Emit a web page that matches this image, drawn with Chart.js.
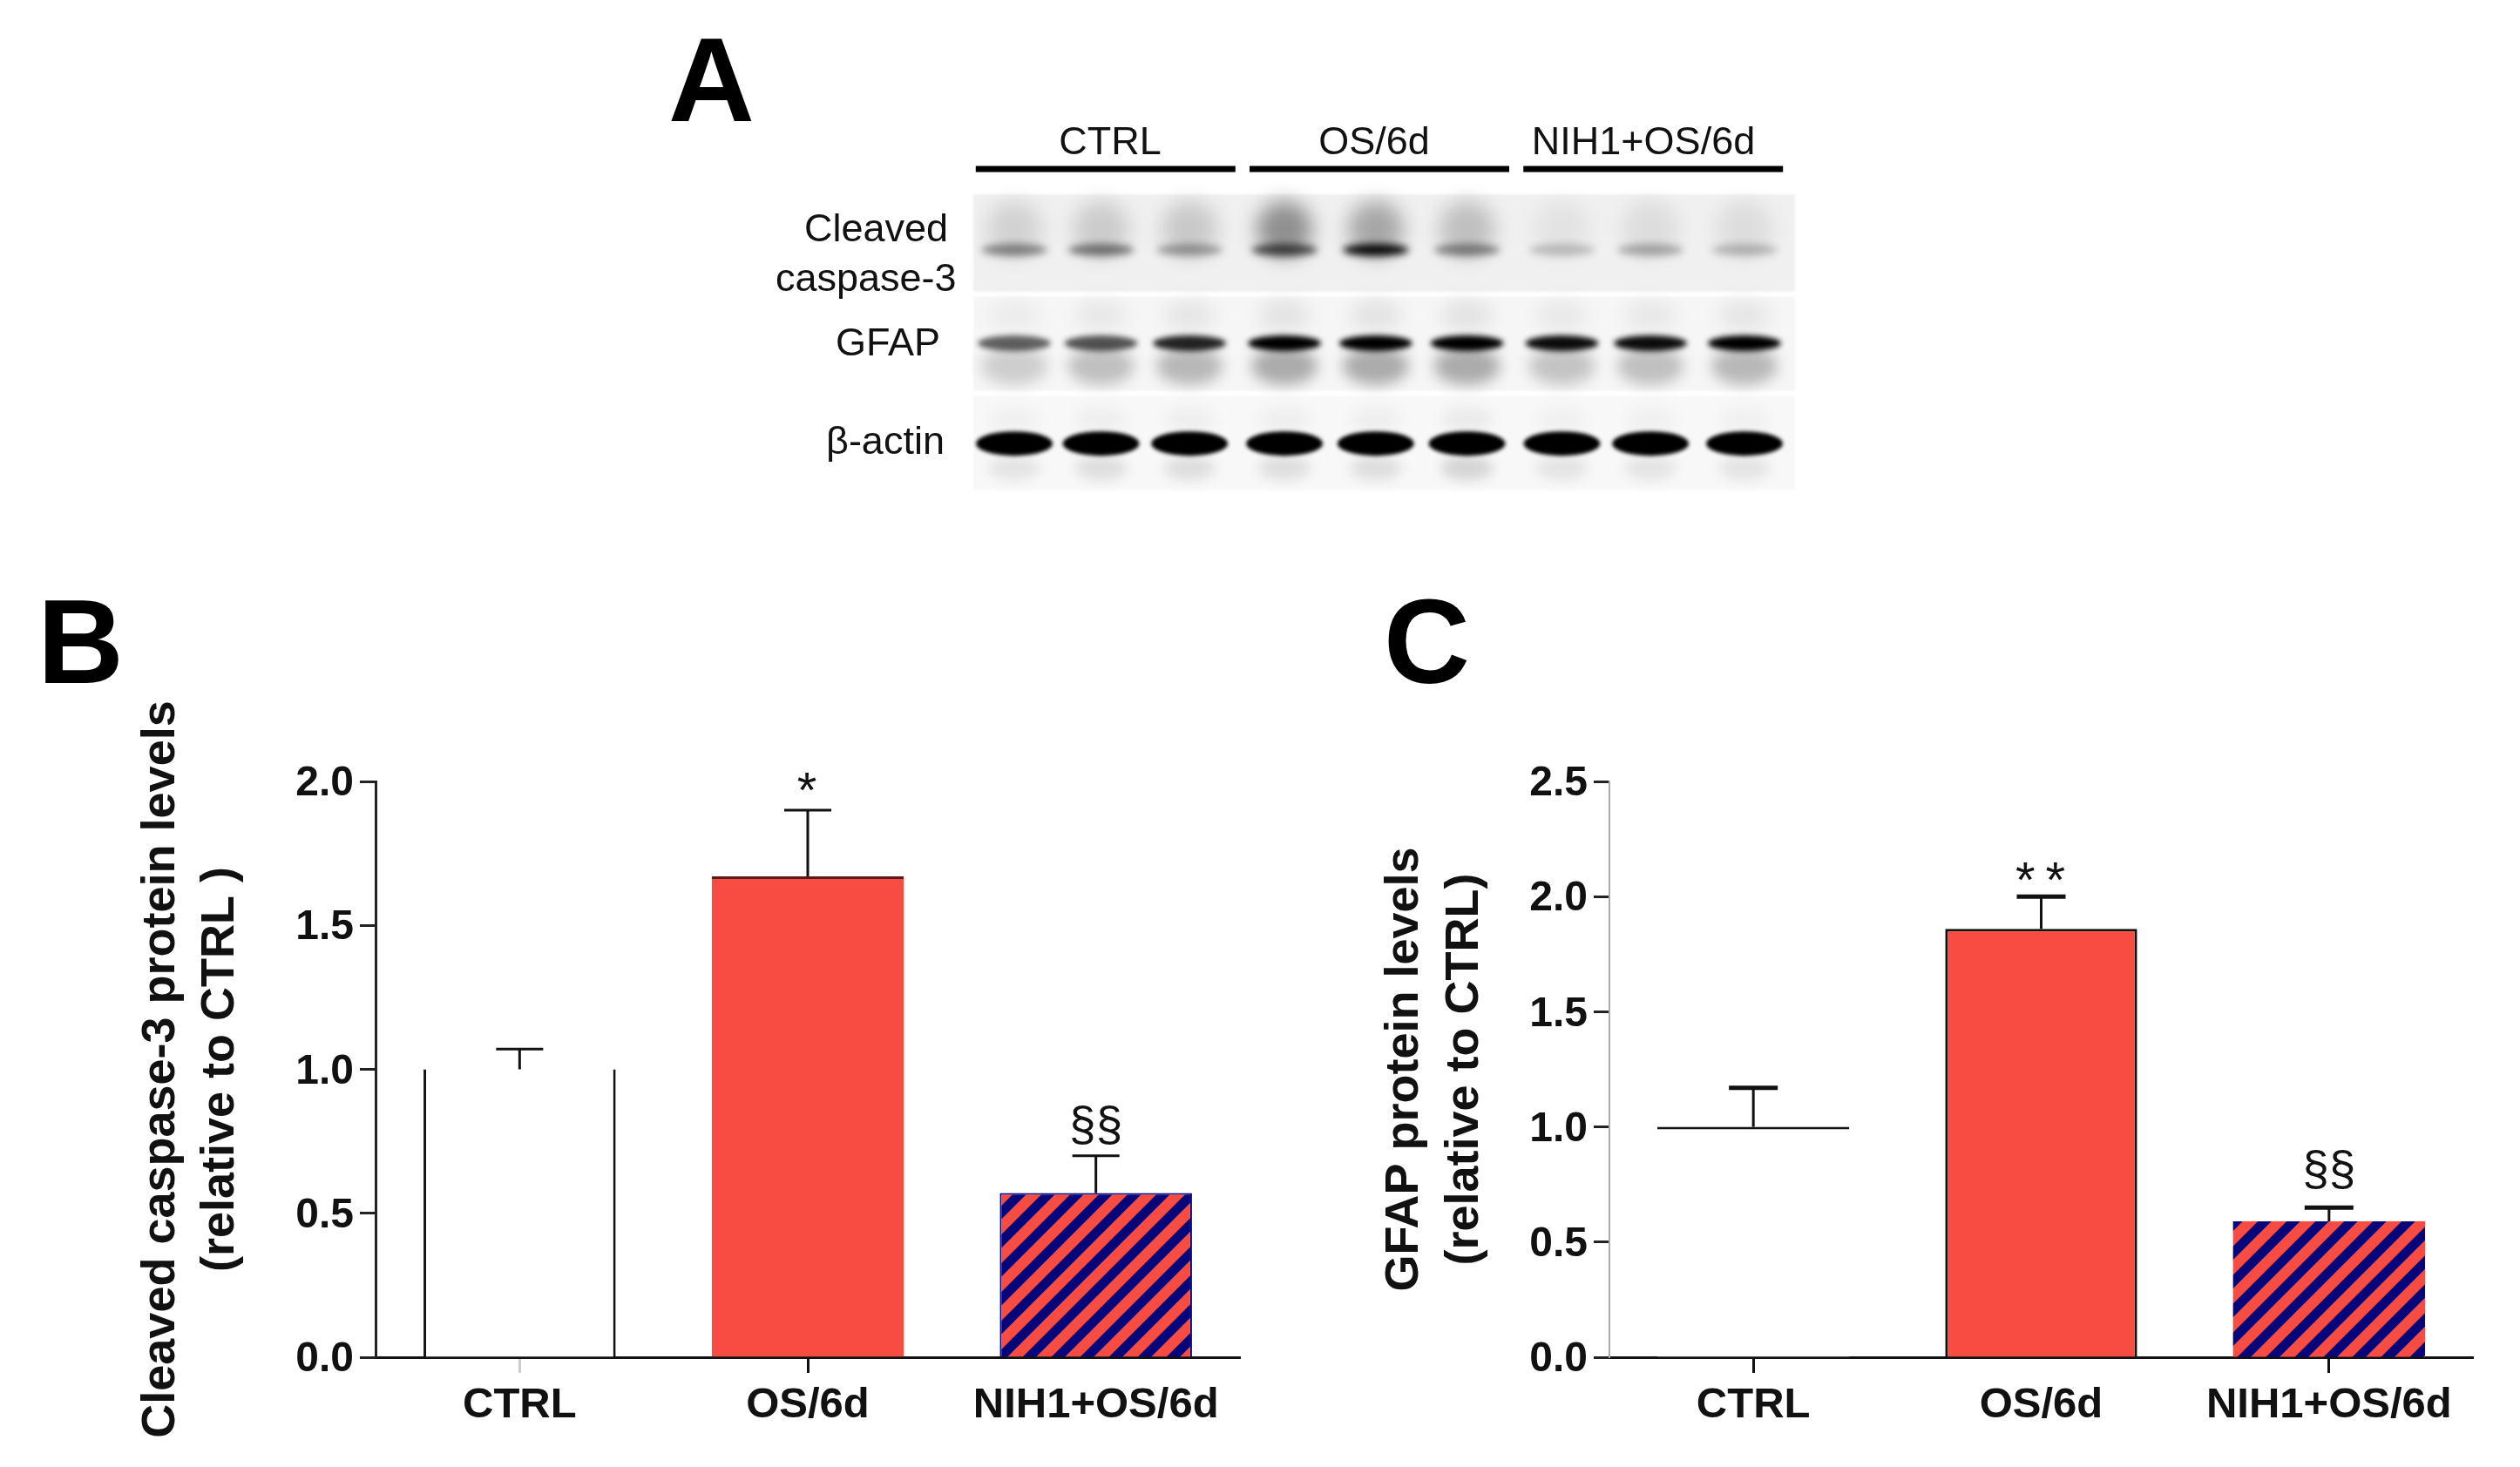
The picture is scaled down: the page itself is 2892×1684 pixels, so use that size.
<!DOCTYPE html>
<html>
<head>
<meta charset="utf-8">
<title>Cleaved caspase-3 and GFAP protein levels</title>
<script src="https://cdn.jsdelivr.net/npm/chart.js@4/dist/chart.umd.min.js"></script>
<style>
  html, body { margin: 0; background: #fff; }
  body { position: relative; width: 2892px; height: 1684px; overflow: hidden; font-family: "Liberation Sans", Arial, sans-serif; color: #111; }
  canvas { position: absolute; }
  .txt { position: absolute; line-height: 1; white-space: nowrap; font-size: 45px; }
  .mid { transform: translateX(-50%); }
  .letter { position: absolute; line-height: 1; font-size: 137px; font-weight: bold; color: #000; }
</style>
</head>
<body>
<canvas id="blot" width="2892" height="660" style="left:0;top:0"></canvas>
<canvas id="panel-b" width="1460" height="1024" style="left:0;top:660px"></canvas>
<canvas id="panel-c" width="1432" height="1024" style="left:1460px;top:660px"></canvas>

<div class="letter" style="left:43px;top:668px">B</div>
<div class="letter" style="left:767px;top:23px">A</div>
<div class="letter" style="left:1588px;top:668px">C</div>

<div class="txt mid" style="left:1274px;top:139px">CTRL</div>
<div class="txt mid" style="left:1577px;top:139px">OS/6d</div>
<div class="txt mid" style="left:1886px;top:139px">NIH1+OS/6d</div>
<div class="txt" style="left:923px;top:239px">Cleaved</div>
<div class="txt" style="left:890px;top:296px">caspase-3</div>
<div class="txt" style="left:959px;top:370px">GFAP</div>
<div class="txt" style="left:948px;top:483px">β-actin</div>

<script>
  var categories = ['CTRL', 'OS/6d', 'NIH1+OS/6d'];

  var caspaseValues = [1.0, 1.67, 0.57];
  var caspaseErrTops = [1.07, 1.90, 0.70];
  var caspaseMarks = ['', '*', '§§'];
  var caspaseTicks = [0, 0.5, 1.0, 1.5, 2.0];

  var gfapValues = [1.0, 1.86, 0.59];
  var gfapErrTops = [1.17, 2.00, 0.65];
  var gfapMarks = ['', '**', '§§'];
  var gfapTicks = [0, 0.5, 1.0, 1.5, 2.0, 2.5];

  /* blot: lane centres, band rows, and how dark each band and its smear look */
  var lanePositions = [1, 1.95, 2.92, 3.96, 4.96, 5.96, 7, 7.97, 9];
  var bandRows = [0.56, 1.5, 2.51];
  var caspaseBand = [0.42, 0.48, 0.32, 0.65, 0.95, 0.42, 0.2, 0.28, 0.22];
  var caspaseSmear = [0.12, 0.15, 0.16, 0.4, 0.3, 0.2, 0.05, 0.08, 0.08];
  var gfapBand = [0.6, 0.65, 0.85, 1, 1, 1, 0.95, 0.95, 1];
  var gfapSmear = [0.16, 0.22, 0.25, 0.3, 0.3, 0.3, 0.2, 0.22, 0.25];
  var actinBand = [1, 1, 1, 1, 1, 1, 1, 1, 1];
  var actinSmear = [0.08, 0.1, 0.1, 0.1, 0.1, 0.14, 0.08, 0.08, 0.08];

  var RED = '#f84c43';
  var NAVY = '#06057a';
  var FONT = '"Liberation Sans", Arial, sans-serif';

  function hatchPattern() {
    var tile = document.createElement('canvas');
    tile.width = 33;
    tile.height = 33;
    var c = tile.getContext('2d');
    c.fillStyle = RED;
    c.fillRect(0, 0, 33, 33);
    c.strokeStyle = NAVY;
    c.lineWidth = 11;
    c.beginPath();
    c.moveTo(-10, 43); c.lineTo(43, -10);
    c.moveTo(-10, 10); c.lineTo(10, -10);
    c.moveTo(23, 43); c.lineTo(43, 23);
    c.stroke();
    return c.createPattern(tile, 'repeat');
  }

  /* error bars and significance marks, placed through the chart's scales */
  function errorBarPlugin(errTops, marks, style) {
    return {
      id: 'errorBars',
      afterDatasetsDraw: function (chart) {
        var ctx = chart.ctx;
        var y = chart.scales.y;
        var meta = chart.getDatasetMeta(0);
        ctx.save();
        ctx.strokeStyle = '#111';
        ctx.fillStyle = '#111';
        ctx.textAlign = 'center';
        ctx.textBaseline = 'middle';
        meta.data.forEach(function (bar, i) {
          var top = y.getPixelForValue(errTops[i]);
          ctx.lineWidth = 3;
          ctx.beginPath();
          ctx.moveTo(bar.x, bar.y);
          ctx.lineTo(bar.x, top);
          ctx.stroke();
          ctx.lineWidth = style.capWidth;
          ctx.beginPath();
          ctx.moveTo(bar.x - style.capHalf, top);
          ctx.lineTo(bar.x + style.capHalf, top);
          ctx.stroke();
          if (marks[i] === '§§') {
            ctx.font = '55px ' + FONT;
            ctx.letterSpacing = '0px';
            ctx.fillText(marks[i], bar.x, top - style.sectionGap);
          } else if (marks[i]) {
            ctx.font = '58px ' + FONT;
            ctx.letterSpacing = '12px';
            ctx.fillText(marks[i], bar.x + 5, top - style.starGap);
          }
        });
        ctx.restore();
      }
    };
  }

  function makeBarPanel(id, values, errTops, marks, ticks, yMax, cfg) {
    return new Chart(document.getElementById(id), {
      type: 'bar',
      data: {
        labels: categories,
        datasets: [{
          data: values,
          backgroundColor: ['#ffffff', RED, hatchPattern()],
          borderColor: cfg.barBorders,
          borderWidth: function (c) { return cfg.barWidths[c.dataIndex]; },
          borderSkipped: false,
          barPercentage: 0.667,
          categoryPercentage: 1
        }]
      },
      options: {
        responsive: false,
        animation: false,
        devicePixelRatio: 1,
        layout: { padding: cfg.padding },
        plugins: { legend: { display: false }, tooltip: { enabled: false } },
        scales: {
          x: {
            border: { color: '#111', width: 3 },
            grid: {
              offset: false,
              drawOnChartArea: false,
              tickLength: 18,
              tickWidth: 3,
              tickColor: function (c) { return cfg.xTickColors[c.index]; }
            },
            ticks: {
              color: '#111',
              padding: 8,
              maxRotation: 0,
              autoSkip: false,
              font: { family: FONT, size: 49, weight: 'bold' }
            },
            afterFit: function (s) {
              s.height = 126;
              s.paddingLeft = 0;
              s.paddingRight = 0;
            }
          },
          y: {
            min: 0,
            max: yMax,
            border: { color: cfg.yAxisColor, width: cfg.yAxisWidth },
            grid: { drawOnChartArea: false, tickLength: 18, tickWidth: 3, tickColor: '#222' },
            afterBuildTicks: function (s) {
              s.ticks = ticks.map(function (v) { return { value: v }; });
            },
            ticks: {
              color: '#111',
              padding: 7,
              labelOffset: 3,
              font: { family: FONT, size: 48, weight: 'bold' },
              callback: function (v) { return Number(v).toFixed(1); }
            },
            title: {
              display: true,
              text: cfg.title,
              color: '#111',
              padding: 0,
              font: { family: FONT, size: 54, weight: 'bold', lineHeight: cfg.titleLine }
            },
            afterFit: function (s) {
              s.width = cfg.yWidth;
              s.paddingTop = 0;
              s.paddingBottom = 0;
            }
          }
        }
      },
      plugins: [errorBarPlugin(errTops, marks, cfg)]
    });
  }

  function ellipse(ctx, x, y, rx, ry, alpha, blur) {
    ctx.filter = 'blur(' + blur + 'px)';
    ctx.fillStyle = 'rgba(0,0,0,' + alpha + ')';
    ctx.beginPath();
    ctx.ellipse(x, y, rx, ry, 0, 0, Math.PI * 2);
    ctx.fill();
  }

  var blotPlugin = {
    id: 'blot',
    beforeDatasetsDraw: function (chart) {
      var ctx = chart.ctx;
      var x = chart.scales.x;
      var y = chart.scales.y;
      var area = chart.chartArea;
      var rowShades = ['#f0f0f0', '#f6f6f6', '#f8f8f8'];
      ctx.save();

      rowShades.forEach(function (shade, r) {
        ctx.filter = 'blur(1px)';
        ctx.fillStyle = shade;
        var top = y.getPixelForValue(r + (r ? 0.03 : 0));
        ctx.fillRect(area.left, top, area.right - area.left, y.getPixelForValue(r + 0.98) - top);
      });

      lanePositions.forEach(function (lane, i) {
        var px = x.getPixelForValue(lane);
        var py = y.getPixelForValue(bandRows[0]);
        ellipse(ctx, px, py - 24, 32, 32, caspaseSmear[i], 11);
        ellipse(ctx, px, py, 38, 7, caspaseBand[i], 4);
        py = y.getPixelForValue(bandRows[1]);
        ellipse(ctx, px, py + 26, 38, 22, gfapSmear[i], 8);
        ellipse(ctx, px, py - 32, 30, 18, gfapSmear[i] * 0.25, 10);
        ellipse(ctx, px, py, 42, 9, gfapBand[i], 3);
        py = y.getPixelForValue(bandRows[2]);
        ellipse(ctx, px, py + 28, 30, 14, actinSmear[i], 7);
        ellipse(ctx, px, py - 28, 30, 14, actinSmear[i] * 0.4, 8);
        ellipse(ctx, px, py, 44, 14, actinBand[i], 2);
      });

      /* group rules over the three lanes of each group */
      ctx.filter = 'none';
      ctx.strokeStyle = '#000';
      ctx.lineWidth = 7;
      [2, 5, 8].forEach(function (lane) {
        var mid = x.getPixelForValue(lane);
        ctx.beginPath();
        ctx.moveTo(mid - 149, 194);
        ctx.lineTo(mid + 149, 194);
        ctx.stroke();
      });
      ctx.restore();
    }
  };

  new Chart(document.getElementById('blot'), {
    type: 'scatter',
    data: {
      datasets: [caspaseBand, gfapBand, actinBand].map(function (band, r) {
        return {
          pointRadius: 0,
          data: lanePositions.map(function (lane) { return { x: lane, y: bandRows[r] }; })
        };
      })
    },
    options: {
      responsive: false,
      animation: false,
      devicePixelRatio: 1,
      layout: { padding: { left: 1117, right: 832, top: 223, bottom: 95 } },
      plugins: { legend: { display: false }, tooltip: { enabled: false } },
      scales: {
        x: { display: false, min: 0.551, max: 9.554 },
        y: { display: false, min: 0, max: 3, reverse: true }
      }
    },
    plugins: [blotPlugin]
  });

  makeBarPanel('panel-b', caspaseValues, caspaseErrTops, caspaseMarks, caspaseTicks, 2, {
    title: ['Cleaved caspase-3 protein levels', '(relative to CTRL )'],
    titleLine: 68 / 54,
    padding: { left: 151, right: 37, top: 237, bottom: 0 },
    yWidth: 280,
    yAxisColor: '#222',
    yAxisWidth: 3,
    xTickColors: ['#cccccc', '#111111', 'rgba(0,0,0,0)'],
    barBorders: ['#111111', '#5a1a1a', NAVY],
    barWidths: [
      { top: 0, right: 3, bottom: 0, left: 3 },
      { top: 3, right: 0, bottom: 0, left: 0 },
      { top: 2, right: 2, bottom: 0, left: 2 }
    ],
    capWidth: 3,
    capHalf: 27,
    starGap: 19,
    sectionGap: 33
  });

  makeBarPanel('panel-c', gfapValues, gfapErrTops, gfapMarks, gfapTicks, 2.5, {
    title: ['GFAP protein levels', '(relative to CTRL)'],
    titleLine: 69 / 54,
    padding: { left: 118, right: 54, top: 237, bottom: 0 },
    yWidth: 269,
    yAxisColor: '#aaaaaa',
    yAxisWidth: 2,
    xTickColors: ['#111111', 'rgba(0,0,0,0)', '#111111'],
    barBorders: ['#111111', '#111111', NAVY],
    barWidths: [
      { top: 3, right: 0, bottom: 0, left: 0 },
      { top: 3, right: 3, bottom: 0, left: 3 },
      { top: 0, right: 0, bottom: 0, left: 0 }
    ],
    capWidth: 5,
    capHalf: 28,
    starGap: 15,
    sectionGap: 41
  });
</script>
</body>
</html>
